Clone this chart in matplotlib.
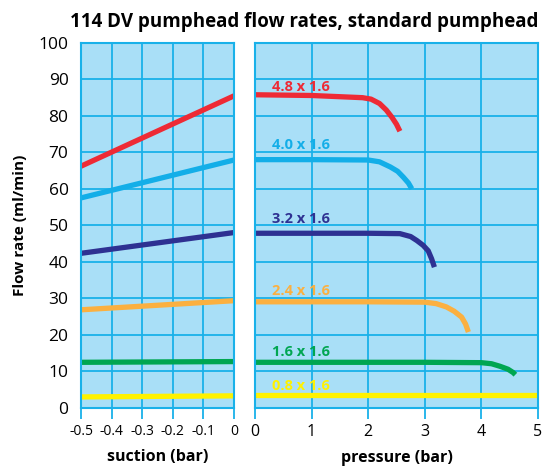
import matplotlib.pyplot as plt

# suction side (left panel): value at -0.5 bar and at 0 bar
suction_x = [-0.5, 0.0]
s_red = [66.2, 85.5]
s_cyan = [57.5, 67.9]
s_navy = [42.3, 48.0]
s_orange = [26.8, 29.3]
s_green = [12.4, 12.6]
s_yellow = [2.9, 3.2]

# pressure side (right panel)
p_red_x = [0, 1, 1.9, 2.05, 2.2, 2.32, 2.42, 2.5, 2.56]
p_red_y = [85.8, 85.6, 85.0, 84.6, 83.4, 81.6, 79.6, 77.7, 75.8]
p_cyan_x = [0, 1, 2, 2.2, 2.39, 2.52, 2.62, 2.71, 2.77]
p_cyan_y = [68.0, 68.0, 67.9, 67.4, 66.0, 64.8, 63.2, 61.6, 60.0]
p_navy_x = [0, 1, 2, 2.56, 2.75, 2.86, 2.97, 3.06, 3.12, 3.17]
p_navy_y = [47.8, 47.8, 47.8, 47.7, 46.9, 45.8, 44.5, 43.0, 40.8, 38.5]
p_orange_x = [0, 1, 2, 3.0, 3.2, 3.38, 3.52, 3.65, 3.72, 3.77]
p_orange_y = [29.0, 29.0, 29.0, 28.9, 28.5, 27.6, 26.4, 24.8, 22.9, 20.7]
p_green_x = [0, 1, 2, 3, 4.0, 4.18, 4.33, 4.47, 4.56, 4.6]
p_green_y = [12.4, 12.4, 12.4, 12.4, 12.3, 12.0, 11.3, 10.5, 9.6, 9.0]
p_yellow_x = [0, 5]
p_yellow_y = [3.3, 3.3]

labels = ["4.8 x 1.6", "4.0 x 1.6", "3.2 x 1.6", "2.4 x 1.6", "1.6 x 1.6", "0.8 x 1.6"]
label_y = [87.9, 71.9, 51.8, 32.0, 15.1, 5.9]
colors = ["#ee2a35", "#13aee8", "#2e3192", "#fbb040", "#00a651", "#fff200"]

suction = [s_red, s_cyan, s_navy, s_orange, s_green, s_yellow]
press = [(p_red_x, p_red_y), (p_cyan_x, p_cyan_y), (p_navy_x, p_navy_y),
         (p_orange_x, p_orange_y), (p_green_x, p_green_y), (p_yellow_x, p_yellow_y)]

plt.rcParams['font.family'] = ['Open Sans', 'DejaVu Sans']
bg = "#a9dff7"
grid = "#19b1e9"

fig = plt.figure(figsize=(5.42, 4.68), dpi=100)
ax1 = fig.add_axes([81/542, 1-407.5/468, 153/542, 364.5/468])
ax2 = fig.add_axes([255/542, 1-407.5/468, 283/542, 364.5/468])

for ax in (ax1, ax2):
    ax.set_facecolor(bg)
    ax.set_ylim(0, 100)
    ax.set_yticks(range(0, 101, 10))
    ax.grid(True, color=grid, lw=1.3)
    ax.set_axisbelow(True)
    for s in ax.spines.values():
        s.set_color(grid)
        s.set_linewidth(1.5)
    ax.tick_params(axis='x', length=8, width=1.3, color=grid, pad=4, labelsize=11.5)
    ax.tick_params(axis='y', length=0, pad=9, labelsize=12.5)

for c, y in zip(colors, suction):
    ax1.plot(suction_x, y, color=c, lw=3.8, solid_capstyle='butt')
for c, (x, y) in zip(colors, press):
    ax2.plot(x, y, color=c, lw=3.8, solid_capstyle='butt')
for c, t, y in zip(colors, labels, label_y):
    ax2.text(0.3, y, t, color=c, fontsize=10.5, fontweight='bold', va='center')

ax1.set_xlim(-0.5, 0)
ax1.set_xticks([-0.5, -0.4, -0.3, -0.2, -0.1, 0])
ax1.set_xticklabels(["-0.5", "-0.4", "-0.3", "-0.2", "-0.1", "0"], fontsize=10)
ax2.set_xlim(0, 5)
ax2.set_xticks(range(6))
ax2.set_yticklabels([])

ax1.set_ylabel("Flow rate (ml/min)", fontsize=11, fontweight='bold', labelpad=8)
ax1.set_xlabel("suction (bar)", fontsize=11.5, fontweight='bold', labelpad=7)
ax2.set_xlabel("pressure (bar)", fontsize=11.5, fontweight='bold', labelpad=7)
fig.text(0.993, 0.953, "114 DV pumphead flow rates, standard pumphead",
         ha='right', va='center', fontsize=13.5, fontweight='bold')

fig.savefig("out.png", dpi=100)
